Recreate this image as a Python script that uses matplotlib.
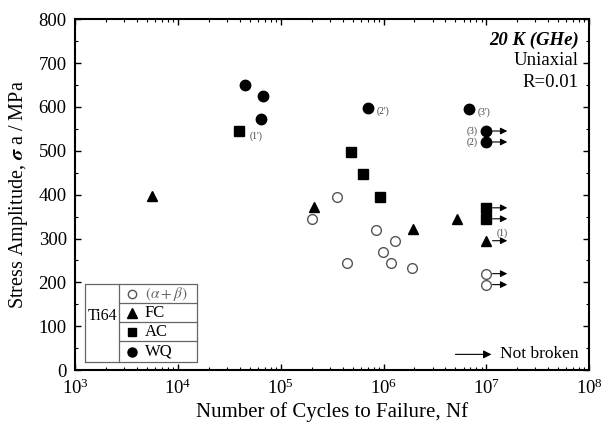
import matplotlib
matplotlib.use("Agg")
import matplotlib.pyplot as plt
from matplotlib.ticker import LogLocator, MultipleLocator

plt.rcParams.update({
    "font.family": "serif",
    "font.serif": ["Liberation Serif", "DejaVu Serif"],
    "mathtext.fontset": "stix",
    "xtick.direction": "in",
    "ytick.direction": "in",
    "xtick.top": True,
    "ytick.right": True,
})

# (alpha + beta) open circles
ab_n = [2.0e5, 3.5e5, 4.4e5, 8.5e5, 9.8e5, 1.18e6, 1.28e6, 1.9e6, 1.0e7, 1.0e7]
ab_s = [345, 395, 245, 320, 270, 245, 295, 232, 220, 195]
ab_nb = [False] * 8 + [True, True]

# FC triangles
fc_n = [5.6e3, 2.1e5, 1.95e6, 5.2e6, 1.0e7]
fc_s = [397, 372, 322, 345, 295]
fc_nb = [False, False, False, False, True]

# AC squares
ac_n = [3.95e4, 4.8e5, 6.3e5, 9.2e5, 1.0e7, 1.0e7]
ac_s = [545, 497, 447, 395, 370, 345]
ac_nb = [False, False, False, False, True, True]

# WQ filled circles
wq_n = [4.5e4, 6.7e4, 6.4e4, 7.1e5, 6.8e6, 1.0e7, 1.0e7]
wq_s = [650, 625, 572, 598, 595, 545, 520]
wq_nb = [False, False, False, False, False, True, True]

# specimen labels: (text, N, S, dx factor, dy)
notes = [
    ("(1')", 3.95e4, 545, 1.25, -12),
    ("(2')", 7.1e5, 598, 1.2, -7),
    ("(3')", 6.8e6, 595, 1.2, -7),
    ("(3)", 1.0e7, 545, 0.62, 0),
    ("(2)", 1.0e7, 520, 0.62, 0),
    ("(1)", 1.0e7, 345, 1.25, -32),
]


def main():
    fig = plt.figure(figsize=(6.15, 4.25), dpi=100)
    ax = fig.add_axes([0.122, 0.129, 0.836, 0.826])

    series = [
        (ab_n, ab_s, ab_nb, dict(marker="o", mfc="white", mec="#555555", mew=1.0, ms=7)),
        (fc_n, fc_s, fc_nb, dict(marker="^", color="black", ms=7.5)),
        (ac_n, ac_s, ac_nb, dict(marker="s", color="black", ms=7)),
        (wq_n, wq_s, wq_nb, dict(marker="o", color="black", ms=7.5)),
    ]
    for n, s, nb, style in series:
        ax.plot(n, s, linestyle="none", zorder=3, **style)
        for xi, yi, broke in zip(n, s, nb):
            if broke:
                ax.annotate("", xy=(xi * 1.7, yi), xytext=(xi * 1.08, yi),
                            arrowprops=dict(arrowstyle="-|>", color="black",
                                            lw=0.8, mutation_scale=10))

    for txt, xi, yi, fx, dy in notes:
        ha = "right" if fx < 1 else "left"
        ax.text(xi * fx if fx >= 1 else xi * 0.82, yi + dy, txt, fontsize=7,
                color="#444444", ha=ha, va="center")

    ax.set_xscale("log")
    ax.set_xlim(1e3, 1e8)
    ax.set_ylim(0, 800)
    ax.xaxis.set_major_locator(LogLocator(base=10, numticks=10))
    ax.xaxis.set_minor_locator(LogLocator(base=10, subs=range(2, 10), numticks=10))
    ax.yaxis.set_major_locator(MultipleLocator(100))
    ax.yaxis.set_minor_locator(MultipleLocator(50))
    ax.tick_params(which="major", length=4, width=1, labelsize=13.5, pad=6)
    ax.tick_params(which="minor", length=2, width=0.8)
    for sp in ax.spines.values():
        sp.set_linewidth(1.5)

    ax.set_xlabel("Number of Cycles to Failure, Nf", fontsize=15, labelpad=3)
    ax.set_ylabel(r"Stress Amplitude, $\boldsymbol{\sigma}$ a / MPa", fontsize=14.5,
                  labelpad=6)

    # condition text
    ax.text(0.98, 0.965, "20 K (GHe)", transform=ax.transAxes, ha="right", va="top",
            fontsize=13.5, fontweight="bold", fontstyle="italic")
    ax.text(0.98, 0.905, "Uniaxial", transform=ax.transAxes, ha="right", va="top",
            fontsize=13.5)
    ax.text(0.98, 0.845, "R=0.01", transform=ax.transAxes, ha="right", va="top",
            fontsize=13.5)

    # not broken key
    ax.annotate("", xy=(0.81, 0.045), xytext=(0.74, 0.045), xycoords="axes fraction",
                arrowprops=dict(arrowstyle="-|>", color="black", lw=0.8,
                                mutation_scale=12, shrinkA=0, shrinkB=0))
    ax.text(0.98, 0.045, "Not broken", transform=ax.transAxes, ha="right",
            va="center", fontsize=12.5)

    # table-style legend
    x0, x1, xd = 0.019, 0.237, 0.086
    y0, y1 = 0.023, 0.245
    seps = [0.191, 0.137, 0.083]
    kw = dict(transform=ax.transAxes, color="#666666", lw=0.9)
    ax.plot([x0, x1, x1, x0, x0], [y0, y0, y1, y1, y0], **kw)
    ax.plot([xd, xd], [y0, y1], **kw)
    for yy in seps:
        ax.plot([xd, x1], [yy, yy], **kw)
    ax.text((x0 + xd) / 2, (y0 + y1) / 2 + 0.02, "Ti64", transform=ax.transAxes,
            ha="center", va="center", fontsize=11.5)
    rows = [y1] + seps + [y0]
    labels = [r"$(\alpha+\beta)$", "FC", "AC", "WQ"]
    for i, (n, s, nb, style) in enumerate(series):
        yc = (rows[i] + rows[i + 1]) / 2
        ax.plot([xd + 0.025], [yc], transform=ax.transAxes, linestyle="none",
                clip_on=False, **{**style, "ms": style["ms"] - 1})
        ax.text(xd + 0.05, yc, labels[i], transform=ax.transAxes, ha="left",
                va="center", fontsize=12 if i else 11,
                color="#666666" if i == 0 else "black")

    fig.savefig("out.png", dpi=100)


if __name__ == "__main__":
    main()
